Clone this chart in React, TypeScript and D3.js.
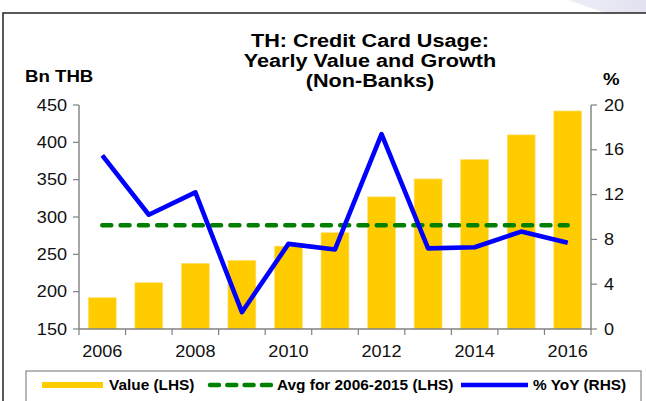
import React from "react";
import * as d3 from "d3";

const years = ["2006", "2007", "2008", "2009", "2010", "2011", "2012", "2013", "2014", "2015", "2016"];
const values = [192, 212, 238, 242, 261, 279, 327, 351, 377, 410, 442];
const avgValue = 289;
const yoy = [15.5, 10.2, 12.2, 1.5, 7.6, 7.1, 17.4, 7.2, 7.3, 8.7, 7.7];
const leftTicks = [150, 200, 250, 300, 350, 400, 450];
const rightTicks = [0, 4, 8, 12, 16, 20];
const xLabelYears = ["2006", "2008", "2010", "2012", "2014", "2016"];
const titleLines = ["TH: Credit Card Usage:", "Yearly Value and Growth", "(Non-Banks)"];

const FONT = "'Liberation Sans', Arial, sans-serif";
const SX = 1.13;

function T(props: any) {
  const { x, y, anchor = "start", size = 16, bold = false, sx = SX, children, fill = "#000" } = props;
  return (
    <text
      transform={`translate(${x},${y}) scale(${sx},1)`}
      textAnchor={anchor}
      fontSize={size}
      fontWeight={bold ? "bold" : "normal"}
      fontFamily={FONT}
      fill={fill}
    >
      {children}
    </text>
  );
}

export default function App() {
  const W = 646, H = 401;
  const left = 79, right = 591, top = 105, bottom = 329;
  const x = d3.scaleBand<string>().domain(years).range([left, right]).paddingInner(0.4).paddingOuter(0.2);
  const yL = d3.scaleLinear().domain([150, 450]).range([bottom, top]);
  const yR = d3.scaleLinear().domain([0, 20]).range([bottom, top]);
  const step = x.step();
  const cx = (d: string) => (x(d) as number) + x.bandwidth() / 2;

  const line = d3.line<number>().x((_, i) => cx(years[i])).y((d) => yR(d));
  const avgLine = d3.line<string>().x((d) => cx(d)).y(() => yL(avgValue));

  const axisColor = "#808080";
  const boundaries = d3.range(years.length + 1).map((i) => left + i * step);

  return (
    <svg width={W} height={H} style={{ position: "absolute", left: 0, top: 0, background: "#fff" }}>
      <defs>
        <linearGradient id="lav" x1="0" y1="0" x2="1" y2="0">
          <stop offset="0" stopColor="#eeeef8" />
          <stop offset="1" stopColor="#e2e2f0" />
        </linearGradient>
      </defs>
      <path d="M568,0 L646,0 L646,13 L606,13 Q585,6 568,0 Z" fill="url(#lav)" />
      {/* frame */}
      <path d={`M3,${H} L3,13 L${W},13`} fill="none" stroke="#222" strokeWidth={1.5} />

      {/* title */}
      {titleLines.map((t, i) => (
        <T key={t} x={370} y={47 + i * 20} anchor="middle" size={18.5} sx={1.17} bold>
          {t}
        </T>
      ))}
      <T x={25} y={82} size={16.5} bold>Bn THB</T>
      <T x={603} y={85} size={16.5} bold>%</T>

      {/* bars */}
      {values.map((v, i) => (
        <rect
          key={years[i]}
          x={x(years[i])}
          y={yL(v)}
          width={x.bandwidth()}
          height={bottom - yL(v)}
          fill="#FFCC00"
          stroke="#FFE27A"
          strokeWidth={0.6}
        />
      ))}

      {/* avg dashed */}
      <path
        d={avgLine(years) as string}
        fill="none"
        stroke="#008000"
        strokeWidth={4.5}
        strokeDasharray="9,9.3"
        strokeLinecap="round"
      />

      {/* yoy line */}
      <path d={line(yoy) as string} fill="none" stroke="#0000FF" strokeWidth={4.6} strokeLinejoin="round" />

      {/* axes */}
      <line x1={left} x2={left} y1={top} y2={bottom} stroke={axisColor} strokeWidth={1.4} />
      <line x1={right} x2={right} y1={top} y2={bottom} stroke={axisColor} strokeWidth={1.4} />
      <line x1={left} x2={right} y1={bottom} y2={bottom} stroke={axisColor} strokeWidth={1.4} />
      {leftTicks.map((t) => (
        <g key={"l" + t}>
          <line x1={left - 6} x2={left} y1={yL(t)} y2={yL(t)} stroke={axisColor} strokeWidth={1.2} />
          <T x={67} y={yL(t) + 5.5} anchor="end" size={16} fill="#111">{t}</T>
        </g>
      ))}
      {rightTicks.map((t) => (
        <g key={"r" + t}>
          <line x1={right} x2={right + 6} y1={yR(t)} y2={yR(t)} stroke={axisColor} strokeWidth={1.2} />
          <T x={604} y={yR(t) + 5.5} size={16} fill="#111">{t}</T>
        </g>
      ))}
      {boundaries.map((b, i) => (
        <line key={"b" + i} x1={b} x2={b} y1={bottom} y2={bottom + 6} stroke={axisColor} strokeWidth={1.2} />
      ))}
      {xLabelYears.map((yr) => (
        <T key={yr} x={cx(yr)} y={357} anchor="middle" size={16} fill="#111">{yr}</T>
      ))}

      {/* legend */}
      <rect x={26} y={371} width={615} height={40} fill="#fff" stroke="#888" strokeWidth={1.2} />
      <rect x={42} y={382} width={61} height={6} fill="#FFCC00" />
      <T x={109} y={390} size={14} bold sx={1.1}>Value (LHS)</T>
      <line x1={210} x2={271} y1={385} y2={385} stroke="#008000" strokeWidth={4.5} strokeDasharray="9,8.3" strokeLinecap="round" />
      <T x={277} y={390} size={14} bold sx={1.1}>Avg for 2006-2015 (LHS)</T>
      <line x1={461} x2={528} y1={385} y2={385} stroke="#0000FF" strokeWidth={4.5} strokeLinecap="butt" />
      <T x={533} y={390} size={14} bold sx={1.1}>% YoY (RHS)</T>
    </svg>
  );
}
